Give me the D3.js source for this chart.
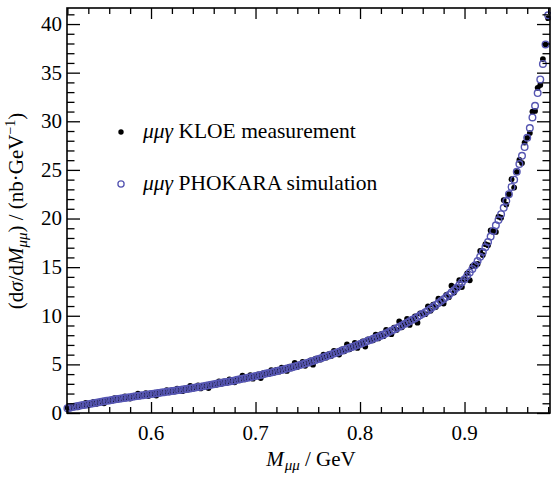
<!DOCTYPE html>
<html><head><meta charset="utf-8">
<script src="https://cdn.jsdelivr.net/npm/d3@7"></script>
<style>body{margin:0;background:#fff}svg{display:block}</style>
</head><body>
<svg id="c" width="551" height="481" font-family="'Liberation Serif', 'Times New Roman', Times, 'DejaVu Serif', serif"></svg>
<script>
// bin centres (GeV)
const massBins = [
0.5200,0.5225,0.5250,0.5275,0.5300,0.5325,0.5350,0.5375,0.5400,0.5425,
0.5450,0.5475,0.5500,0.5525,0.5550,0.5575,0.5600,0.5625,0.5650,0.5675,
0.5700,0.5725,0.5750,0.5775,0.5800,0.5825,0.5850,0.5875,0.5900,0.5925,
0.5950,0.5975,0.6000,0.6025,0.6050,0.6075,0.6100,0.6125,0.6150,0.6175,
0.6200,0.6225,0.6250,0.6275,0.6300,0.6325,0.6350,0.6375,0.6400,0.6425,
0.6450,0.6475,0.6500,0.6525,0.6550,0.6575,0.6600,0.6625,0.6650,0.6675,
0.6700,0.6725,0.6750,0.6775,0.6800,0.6825,0.6850,0.6875,0.6900,0.6925,
0.6950,0.6975,0.7000,0.7025,0.7050,0.7075,0.7100,0.7125,0.7150,0.7175,
0.7200,0.7225,0.7250,0.7275,0.7300,0.7325,0.7350,0.7375,0.7400,0.7425,
0.7450,0.7475,0.7500,0.7525,0.7550,0.7575,0.7600,0.7625,0.7650,0.7675,
0.7700,0.7725,0.7750,0.7775,0.7800,0.7825,0.7850,0.7875,0.7900,0.7925,
0.7950,0.7975,0.8000,0.8025,0.8050,0.8075,0.8100,0.8125,0.8150,0.8175,
0.8200,0.8225,0.8250,0.8275,0.8300,0.8325,0.8350,0.8375,0.8400,0.8425,
0.8450,0.8475,0.8500,0.8525,0.8550,0.8575,0.8600,0.8625,0.8650,0.8675,
0.8700,0.8725,0.8750,0.8775,0.8800,0.8825,0.8850,0.8875,0.8900,0.8925,
0.8950,0.8975,0.9000,0.9025,0.9050,0.9075,0.9100,0.9125,0.9150,0.9175,
0.9200,0.9225,0.9250,0.9275,0.9300,0.9325,0.9350,0.9375,0.9400,0.9425,
0.9450,0.9475,0.9500,0.9525,0.9550,0.9575,0.9600,0.9625,0.9650,0.9675,
0.9700,0.9725,0.9750,0.9775,0.9800];
// KLOE measurement (nb/GeV)
const kloeValues = [
0.56,0.49,0.73,0.66,0.59,0.82,0.75,1.05,0.85,0.96,
1.14,0.93,1.11,1.23,1.00,1.32,1.29,1.27,1.52,1.36,
1.54,1.44,1.70,1.59,1.48,1.74,1.64,1.98,1.71,1.83,
2.03,1.75,1.95,2.07,1.79,2.14,2.10,2.06,2.35,2.13,
2.33,2.20,2.50,2.37,2.24,2.54,2.40,2.79,2.49,2.62,
2.85,2.53,2.76,2.89,2.57,2.99,2.95,2.90,3.24,3.00,
3.25,3.10,3.45,3.30,3.15,3.51,3.36,3.83,3.47,3.63,
3.89,3.53,3.80,3.97,3.59,4.09,4.05,4.00,4.40,4.13,
4.42,4.25,4.66,4.50,4.33,4.76,4.59,5.15,4.73,4.93,
5.26,4.85,5.18,5.40,4.97,5.58,5.55,5.50,6.00,5.69,
6.06,5.87,6.39,6.20,6.01,6.55,6.35,7.05,6.55,6.80,
7.21,6.69,7.10,7.36,6.83,7.58,7.52,7.47,8.06,7.67,
8.12,7.90,8.55,8.33,8.11,8.77,8.54,9.41,8.82,9.14,
9.67,9.06,9.58,9.93,9.29,10.24,10.20,10.16,10.97,10.52,
11.13,10.89,11.75,11.51,11.26,12.15,11.91,13.09,12.38,12.88,
13.65,12.95,13.75,14.36,13.65,15.09,15.20,15.33,16.66,16.25,
17.36,17.26,18.78,18.72,18.62,20.20,20.09,21.90,21.43,22.50,
24.05,23.18,24.80,26.03,25.70,27.81,28.30,28.79,31.00,31.07,
33.44,33.73,36.40,37.90,40.60];
// PHOKARA simulation (nb/GeV)
const phokaraValues = [
0.50,0.55,0.61,0.66,0.71,0.76,0.81,0.86,0.91,0.96,
1.01,1.06,1.11,1.16,1.20,1.25,1.29,1.34,1.38,1.43,
1.47,1.51,1.55,1.59,1.63,1.67,1.71,1.75,1.79,1.83,
1.87,1.91,1.95,1.99,2.03,2.06,2.10,2.14,2.18,2.21,
2.25,2.29,2.33,2.37,2.41,2.45,2.49,2.53,2.58,2.62,
2.67,2.71,2.76,2.80,2.85,2.90,2.95,3.00,3.05,3.10,
3.15,3.20,3.25,3.30,3.35,3.41,3.46,3.52,3.57,3.63,
3.68,3.74,3.80,3.86,3.92,3.98,4.05,4.11,4.17,4.24,
4.30,4.37,4.43,4.50,4.57,4.64,4.71,4.78,4.85,4.93,
5.01,5.10,5.18,5.27,5.36,5.45,5.55,5.64,5.73,5.83,
5.92,6.01,6.11,6.20,6.30,6.40,6.50,6.60,6.70,6.80,
6.90,7.00,7.10,7.20,7.31,7.42,7.52,7.63,7.73,7.84,
7.95,8.07,8.20,8.33,8.46,8.59,8.72,8.86,9.00,9.14,
9.29,9.44,9.58,9.73,9.88,10.04,10.20,10.37,10.55,10.73,
10.92,11.11,11.31,11.51,11.71,11.92,12.14,12.38,12.62,12.88,
13.16,13.45,13.75,14.10,14.45,14.82,15.20,15.62,16.08,16.55,
17.05,17.58,18.14,18.72,19.30,19.85,20.45,21.10,21.80,22.50,
23.25,24.00,24.80,25.60,26.45,27.35,28.30,29.30,30.40,31.60,
32.90,34.30,35.90,37.90,40.90];
const xTickLabels = ["0.6","0.7","0.8","0.9"];
const xTickValues = [0.6,0.7,0.8,0.9];
const yTickLabels = ["0","5","10","15","20","25","30","35","40"];
const yTickValues = [0,5,10,15,20,25,30,35,40];
const legendLabels = ["KLOE measurement","PHOKARA simulation"];

const svg = d3.select("#c");
const L=67, R=550, T=8, B=413;
const x = d3.scaleLinear().domain([0.5196,0.9818]).range([L,R]);
const y = d3.scaleLinear().domain([0,41.65]).range([B,T]);
const blue = "#5656b2";
const FS = 21;

// points
const kloe = massBins.map((m,i)=>({m, v:kloeValues[i]}));
const pho = massBins.map((m,i)=>({m, v:phokaraValues[i]}));
svg.append("g").selectAll("circle").data(kloe).join("circle")
  .attr("cx",d=>x(d.m)).attr("cy",d=>y(d.v)).attr("r",2.9).attr("fill","#000");
svg.append("g").selectAll("circle").data(pho).join("circle")
  .attr("cx",d=>x(d.m)).attr("cy",d=>y(d.v)).attr("r",3.3)
  .attr("fill","none").attr("stroke",blue).attr("stroke-width",1.4);

// axes with inward ticks
function tickAxis(axisGen, tr){
  const g = svg.append("g").attr("transform",tr).call(axisGen);
  g.select(".domain").remove();
  g.selectAll("text").remove();
  g.selectAll("line").attr("stroke","#000").attr("stroke-width",1.3);
  return g;
}
const xMinor = d3.range(0.52,0.981,0.02).filter(v=>!xTickValues.some(t=>Math.abs(t-v)<1e-6));
const yMinor = d3.range(0,42,1).filter(v=>v%5!==0);
tickAxis(d3.axisTop(x).tickValues(xTickValues).tickSize(11),`translate(0,${B})`);
tickAxis(d3.axisTop(x).tickValues(xMinor).tickSize(6),`translate(0,${B})`);
tickAxis(d3.axisBottom(x).tickValues(xTickValues).tickSize(11),`translate(0,${T})`);
tickAxis(d3.axisBottom(x).tickValues(xMinor).tickSize(6),`translate(0,${T})`);
tickAxis(d3.axisRight(y).tickValues(yTickValues).tickSize(13),`translate(${L},0)`);
tickAxis(d3.axisRight(y).tickValues(yMinor).tickSize(7.5),`translate(${L},0)`);
tickAxis(d3.axisLeft(y).tickValues(yTickValues).tickSize(13),`translate(${R},0)`);
tickAxis(d3.axisLeft(y).tickValues(yMinor).tickSize(7.5),`translate(${R},0)`);

// frame
svg.append("rect").attr("x",L).attr("y",T).attr("width",R-L).attr("height",B-T)
  .attr("fill","none").attr("stroke","#000").attr("stroke-width",1.6);

// tick labels
svg.append("g").selectAll("text").data(xTickValues).join("text")
  .attr("x",d=>x(d)).attr("y",440).attr("text-anchor","middle")
  .attr("font-size",FS).text((d,i)=>xTickLabels[i]);
svg.append("g").selectAll("text").data(yTickValues).join("text")
  .attr("x",62).attr("y",d=>y(d)).attr("dy","0.33em").attr("text-anchor","end")
  .attr("font-size",FS).text((d,i)=>yTickLabels[i]);

// x title
const xt = svg.append("text").attr("x",311).attr("y",466).attr("text-anchor","middle").attr("font-size",FS);
xt.append("tspan").attr("font-style","italic").text("M");
xt.append("tspan").attr("font-style","italic").attr("font-size",15).attr("dy",4).attr("dx",1).text("μμ");
xt.append("tspan").attr("dy",-4).text(" / GeV");

// y title
const yt = svg.append("text").attr("transform","translate(23,211) rotate(-90)").attr("text-anchor","middle").attr("font-size",FS);
yt.append("tspan").text("(d");
yt.append("tspan").attr("font-style","italic").text("σ");
yt.append("tspan").text("/d");
yt.append("tspan").attr("font-style","italic").text("M");
yt.append("tspan").attr("font-style","italic").attr("font-size",15).attr("dy",4).text("μμ");
yt.append("tspan").attr("dy",-4).text(") / (nb·GeV");
yt.append("tspan").attr("font-size",14).attr("dy",-8).text("−1");
yt.append("tspan").attr("dy",8).text(")");

// legend
const lg = svg.append("g");
lg.append("circle").attr("cx",121).attr("cy",132).attr("r",2.7).attr("fill","#000");
lg.append("circle").attr("cx",121).attr("cy",184).attr("r",3.1).attr("fill","none").attr("stroke",blue).attr("stroke-width",1.3);
[138,190].forEach((yy,i)=>{
  const t = lg.append("text").attr("x",143).attr("y",yy).attr("font-size",21.5);
  t.append("tspan").attr("font-style","italic").text("μμγ");
  t.append("tspan").text(" "+legendLabels[i]);
});
</script>
</body></html>
